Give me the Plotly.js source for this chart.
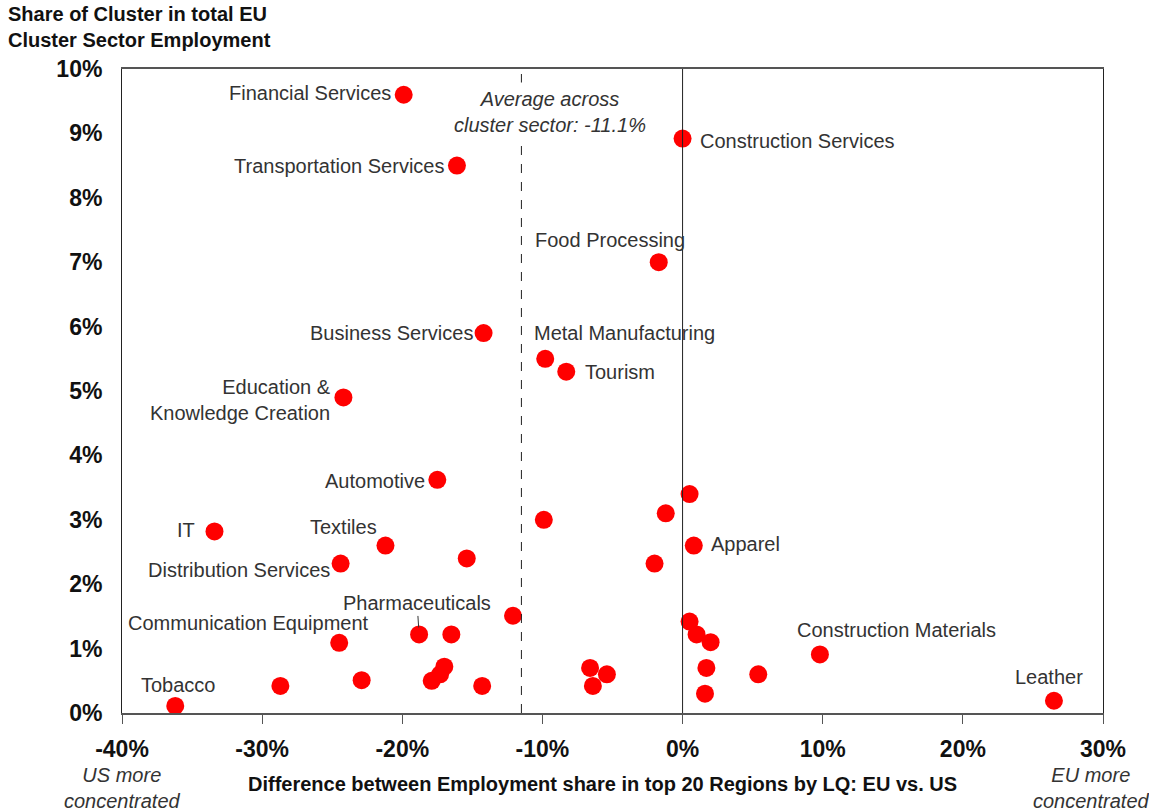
<!DOCTYPE html>
<html>
<head>
<meta charset="utf-8">
<script src="https://cdn.plot.ly/plotly-3.0.1.min.js"></script>
<style>html,body{margin:0;padding:0;background:#fff;}#chart{width:1149px;height:811px;}</style>
</head>
<body>
<div id="chart"></div>
<script>
// ---- data ----
const clusterNames = [
  "Financial Services","Construction Services","Transportation Services","Food Processing",
  "Business Services","Metal Manufacturing","Tourism","Education &<br>Knowledge Creation",
  "Automotive","","","","IT","Textiles","Apparel","","Distribution Services","","","","","",
  "Pharmaceuticals","","Communication Equipment","Construction Materials","","","","","","","",
  "","","","","","Tobacco","Leather"
];
const diffEUvsUS = [
  -19.9, 0.0, -16.1, -1.7,
  -14.2, -9.8, -8.3, -24.2,
  -17.5, 0.5, -1.2, -9.9, -33.4, -21.2, 0.8, -15.4, -24.4, -2.0, -12.1, 0.5, 1.0, 2.0,
  -18.8, -16.5, -24.5, 9.8, -6.6, -5.4, 1.7, 5.4, -17.0, -17.3, -17.9,
  -22.9, -28.7, -14.3, -6.4, 1.6, -36.2, 26.5
];
const shareEU = [
  9.6, 8.92, 8.5, 7.0,
  5.9, 5.5, 5.3, 4.9,
  3.62, 3.4, 3.1, 3.0, 2.82, 2.6, 2.6, 2.4, 2.32, 2.32, 1.51, 1.42, 1.22, 1.1,
  1.22, 1.22, 1.09, 0.91, 0.7, 0.6, 0.7, 0.6, 0.72, 0.6, 0.5,
  0.51, 0.42, 0.42, 0.42, 0.3, 0.11, 0.19
];
const averageDiff = -11.5;
const averageLabel = "Average across<br>cluster sector: -11.1%";
const xTickVals = [-40, -30, -20, -10, 0, 10, 20, 30];
const xTickText = ["-40%", "-30%", "-20%", "-10%", "0%", "10%", "20%", "30%"];
const yTickVals = [0,1,2,3,4,5,6,7,8,9,10];
const yTickText = ["0%","1%","2%","3%","4%","5%","6%","7%","8%","9%","10%"];
const xTitle = "Difference between Employment share in top 20 Regions by LQ: EU vs. US";
const yTitle = "Share of Cluster in total EU<br>Cluster Sector Employment";

// ---- label placement (style only) ----
const labelStyle = {
  "Financial Services": {xanchor:"right", xshift:-11, yshift:2},
  "Construction Services": {xanchor:"left", xshift:15, yshift:-2},
  "Transportation Services": {xanchor:"right", xshift:-11, yshift:0},
  "Food Processing": {xanchor:"center", xshift:-49, yshift:22},
  "Business Services": {xanchor:"right", xshift:-9, yshift:0},
  "Metal Manufacturing": {xanchor:"left", xshift:-13, yshift:26},
  "Tourism": {xanchor:"left", xshift:17, yshift:0},
  "Education &<br>Knowledge Creation": {xanchor:"right", xshift:-10, yshift:-3, align:"right"},
  "Automotive": {xanchor:"right", xshift:-10, yshift:-1},
  "IT": {xanchor:"right", xshift:-17, yshift:1},
  "Textiles": {xanchor:"right", xshift:-6, yshift:19},
  "Apparel": {xanchor:"left", xshift:15, yshift:2},
  "Distribution Services": {xanchor:"right", xshift:-9, yshift:-6},
  "Communication Equipment": {xanchor:"right", xshift:32, yshift:20},
  "Construction Materials": {xanchor:"left", xshift:-25, yshift:24},
  "Tobacco": {xanchor:"center", xshift:3, yshift:21},
  "Leather": {xanchor:"center", xshift:-5, yshift:24}
};

const FONT = "Liberation Sans, Arial, Helvetica, sans-serif";
const labelFont = {family: FONT, size: 20, color: "#333"};

const annotations = [];
clusterNames.forEach((name, i) => {
  if (!name) return;
  if (name === "Pharmaceuticals") {
    annotations.push({
      x: diffEUvsUS[i], y: shareEU[i], xref: "x", yref: "y",
      text: name, font: labelFont, showarrow: true, arrowhead: 0,
      arrowwidth: 1, arrowcolor: "#333", ax: -2, ay: -31, standoff: 7
    });
    return;
  }
  const s = labelStyle[name];
  annotations.push({
    x: diffEUvsUS[i], y: shareEU[i], xref: "x", yref: "y",
    text: name, font: labelFont, showarrow: false,
    xanchor: s.xanchor, yanchor: "middle", xshift: s.xshift, yshift: s.yshift,
    align: s.align || "left"
  });
});

annotations.push({
  x: averageDiff, y: 1, xref: "x", yref: "paper", text: averageLabel,
  showarrow: false, xanchor: "center", yanchor: "top", xshift: 29, yshift: -13,
  font: {family: FONT, size: 20, color: "#333", style: "italic"},
  bgcolor: "#ffffff", borderpad: 5
});
annotations.push({
  x: 0, y: 1, xref: "paper", yref: "paper", xanchor: "left", yanchor: "bottom",
  xshift: -116, yshift: 16, align: "left", showarrow: false,
  text: "<b>" + yTitle + "</b>",
  font: {family: FONT, size: 20, color: "#111"}
});
annotations.push({
  x: 0.5, y: 0, xref: "paper", yref: "paper", xanchor: "center", yanchor: "middle",
  xshift: -10, yshift: -71, showarrow: false,
  text: "<b>" + xTitle + "</b>",
  font: {family: FONT, size: 20, color: "#111"}
});
annotations.push({
  x: -40, y: 0, xref: "x", yref: "paper", xanchor: "center", yanchor: "top",
  yshift: -49, showarrow: false, text: "US more<br>concentrated",
  font: {family: FONT, size: 20, color: "#333", style: "italic"}
});
annotations.push({
  x: 30, y: 0, xref: "x", yref: "paper", xanchor: "center", yanchor: "top",
  xshift: -12, yshift: -49, showarrow: false, text: "EU more<br>concentrated",
  font: {family: FONT, size: 20, color: "#333", style: "italic"}
});

const trace = {
  type: "scatter", mode: "markers",
  x: diffEUvsUS, y: shareEU,
  marker: {color: "#ff0000", size: 18, line: {width: 0}},
  hoverinfo: "skip"
};

const layout = {
  width: 1149, height: 811,
  margin: {l: 122, r: 46, t: 69, b: 98},
  paper_bgcolor: "#fff", plot_bgcolor: "#fff",
  showlegend: false,
  font: {family: FONT, color: "#111"},
  xaxis: {
    range: [-40, 30], tickvals: xTickVals, ticktext: xTickText,
    showgrid: false, zeroline: false,
    showline: true, linecolor: "#555", linewidth: 2, mirror: true,
    ticks: "outside", ticklen: 9, tickcolor: "#555", tickwidth: 1,
    ticklabelstandoff: 5,
    tickfont: {family: FONT, size: 23, color: "#111", weight: "bold"},
    fixedrange: true
  },
  yaxis: {
    range: [0, 10], tickvals: yTickVals, ticktext: yTickText,
    showgrid: false, zeroline: false,
    showline: true, linecolor: "#222", linewidth: 1, mirror: true,
    ticks: "", ticklabelstandoff: 14,
    tickfont: {family: FONT, size: 23, color: "#111", weight: "bold"},
    fixedrange: true
  },
  shapes: [
    {type: "line", xref: "x", yref: "paper", x0: averageDiff, x1: averageDiff, y0: 0, y1: 1,
     line: {color: "#222", width: 1, dash: "dash"}},
    {type: "line", xref: "x", yref: "paper", x0: 0, x1: 0, y0: 0, y1: 1,
     line: {color: "#222", width: 1}}
  ],
  annotations: annotations
};

Plotly.newPlot("chart", [trace], layout, {displayModeBar: false, staticPlot: true});
</script>
</body>
</html>
